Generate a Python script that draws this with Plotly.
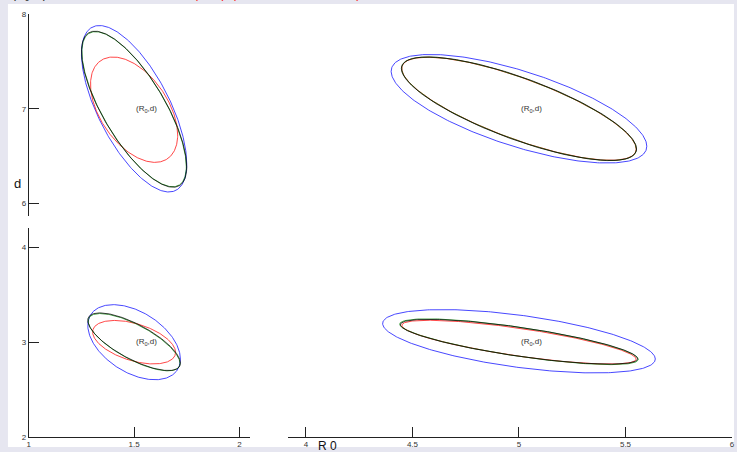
import numpy as np
import plotly.graph_objects as go

W, H = 737, 452

# ---- data: ellipse parameters (center, half-extent in x / y, correlation) ----
panels = ["TL", "TR", "BL", "BR"]
series_names = ["blue", "red", "green", "black"]
series_colors = {"blue": "#0000ff", "red": "#ff0000", "green": "#008000", "black": "#000000"}

center_x = {
    "TL": [1.50, 1.50, 1.50, 1.50],
    "TR": [5.00, 5.00, 5.00, 5.00],
    "BL": [1.50, 1.50, 1.50, 1.50],
    "BR": [5.00, 5.00, 5.00, 5.00],
}
center_y = {
    "TL": [7.00, 6.99, 6.995, 6.995],
    "TR": [7.00, 7.00, 7.00, 7.00],
    "BL": [3.00, 3.00, 3.00, 3.005],
    "BR": [3.01, 3.00, 3.005, 3.005],
}
half_x = {
    "TL": [0.250, 0.207, 0.248, 0.250],
    "TR": [0.600, 0.550, 0.551, 0.552],
    "BL": [0.220, 0.197, 0.218, 0.220],
    "BR": [0.640, 0.550, 0.560, 0.557],
}
half_y = {
    "TL": [0.880, 0.557, 0.820, 0.825],
    "TR": [0.574, 0.545, 0.547, 0.548],
    "BL": [0.397, 0.230, 0.303, 0.305],
    "BR": [0.335, 0.232, 0.242, 0.237],
}
rho = {
    "TL": [-0.66, -0.48, -0.74, -0.74],
    "TR": [-0.69, -0.78, -0.78, -0.776],
    "BL": [-0.45, -0.47, -0.74, -0.74],
    "BR": [-0.56, -0.77, -0.77, -0.76],
}
label_text = "(R<sub>0</sub>,d)"
label_x = {"TL": 1.5, "TR": 5.0, "BL": 1.5, "BR": 5.0}
label_y = {"TL": 7.0, "TR": 7.0, "BL": 3.0, "BR": 3.0}

left_ticks = [1, 1.5, 2]
right_ticks = [4, 4.5, 5, 5.5, 6]
top_yticks = [6, 7, 8]
bottom_yticks = [2, 3, 4]

# ---- layout geometry (pixels -> paper) ----
def px(x):
    return x / W

def Y(y):
    # compensate the vertical placement seen in the rendered page
    return (y - 4.9) / 0.974

def py(y):
    return 1 - Y(y) / H

axis_of = {"TL": ("x", "y"), "TR": ("x2", "y2"), "BL": ("x3", "y3"), "BR": ("x4", "y4")}

fig = go.Figure()
t = np.linspace(0, 2 * np.pi, 361)
for p in panels:
    xa, ya = axis_of[p]
    for i, s in enumerate(series_names):
        cx, cy = center_x[p][i], center_y[p][i]
        sx, sy, r = half_x[p][i], half_y[p][i], rho[p][i]
        xs = cx + sx * np.cos(t)
        ys = cy + sy * (r * np.cos(t) + np.sqrt(1 - r * r) * np.sin(t))
        fig.add_trace(go.Scatter(x=xs, y=ys, mode="lines", xaxis=xa, yaxis=ya,
                                 line=dict(color=series_colors[s], width=0.8),
                                 opacity=0.9,
                                 showlegend=False, hoverinfo="skip"))
    fig.add_annotation(x=label_x[p], y=label_y[p], xref=xa, yref=ya, text=label_text,
                       showarrow=False, xanchor="left", yanchor="middle",
                       font=dict(size=8, color="#333333", family="Liberation Sans"))

tickfont = dict(size=8, color="#333333", family="Liberation Sans")
left_dom = [px(27), px(250)]
right_dom = [px(288), px(735)]
top_dom = [py(216), py(15)]
bot_dom = [py(435), py(228)]
left_rng = [1, 1 + (250 - 27) / 212]
right_rng = [4 - (306 - 288) / 214.5, 6]
top_rng = [8 - (216 - 15) / 94, 8]
bot_rng = [2, 4 + (435 - 228 - 188) / 94]

hidden = dict(visible=False, showgrid=False, zeroline=False)
line_ax = dict(showline=True, linecolor="#222222", linewidth=1, ticks="inside",
               ticklen=10, tickcolor="#222222", tickwidth=1, showgrid=False,
               zeroline=False, tickfont=tickfont, mirror=False,
               ticklabeloverflow="allow")

fig.update_layout(
    width=W, height=H, autosize=False,
    margin=dict(l=0, r=0, t=0, b=0, pad=0),
    paper_bgcolor="#e6e6f0",
    plot_bgcolor="rgba(0,0,0,0)",
    xaxis=dict(domain=left_dom, range=left_rng, anchor="y", **hidden),
    yaxis=dict(domain=top_dom, range=top_rng, anchor="x", tickvals=top_yticks,
               ticktext=[str(v) for v in top_yticks], **line_ax),
    xaxis2=dict(domain=right_dom, range=right_rng, anchor="y2", **hidden),
    yaxis2=dict(domain=top_dom, range=top_rng, anchor="x2", **hidden),
    xaxis3=dict(domain=left_dom, range=left_rng, anchor="y3", tickvals=left_ticks,
                ticktext=["1", "1.5", "2"], **line_ax),
    yaxis3=dict(domain=bot_dom, range=bot_rng, anchor="x3", tickvals=bottom_yticks,
                ticktext=[str(v) for v in bottom_yticks], **line_ax),
    xaxis4=dict(domain=right_dom, range=right_rng, anchor="y4", tickvals=right_ticks,
                ticktext=["4", "4.5", "5", "5.5", "6"], **line_ax),
    yaxis4=dict(domain=bot_dom, range=bot_rng, anchor="x4", **hidden),
    shapes=[dict(type="rect", xref="paper", yref="paper", x0=px(6), x1=1.0,
                 y0=0, y1=py(5), fillcolor="white", line=dict(width=0), layer="below")],
)

fig.add_annotation(x=px(16), y=py(183), xref="paper", yref="paper", text="d",
                   xanchor="center", yanchor="middle",
                   showarrow=False, font=dict(size=13, color="#111111", family="Liberation Sans"))
fig.add_annotation(x=px(328), y=py(444), xref="paper", yref="paper", text="R 0",
                   xanchor="center", yanchor="middle",
                   showarrow=False, font=dict(size=12, color="#111111", family="Liberation Sans"))
fig.add_annotation(
    x=px(8), y=py(-4), xref="paper", yref="paper", xanchor="left", yanchor="middle",
    text="(R<sub>0</sub>, d) contours at level                 "
         "<span style='color:red'>(0.95)</span>  "
         "<span style='color:red'>(likelihood ratio method)</span>",
    showarrow=False, font=dict(size=12, color="#111111", family="Liberation Sans"))

fig.write_html("out.html",
               config={"displayModeBar": False, "responsive": False},
               post_script="document.body.style.margin='0px';document.body.style.overflow='hidden';")
